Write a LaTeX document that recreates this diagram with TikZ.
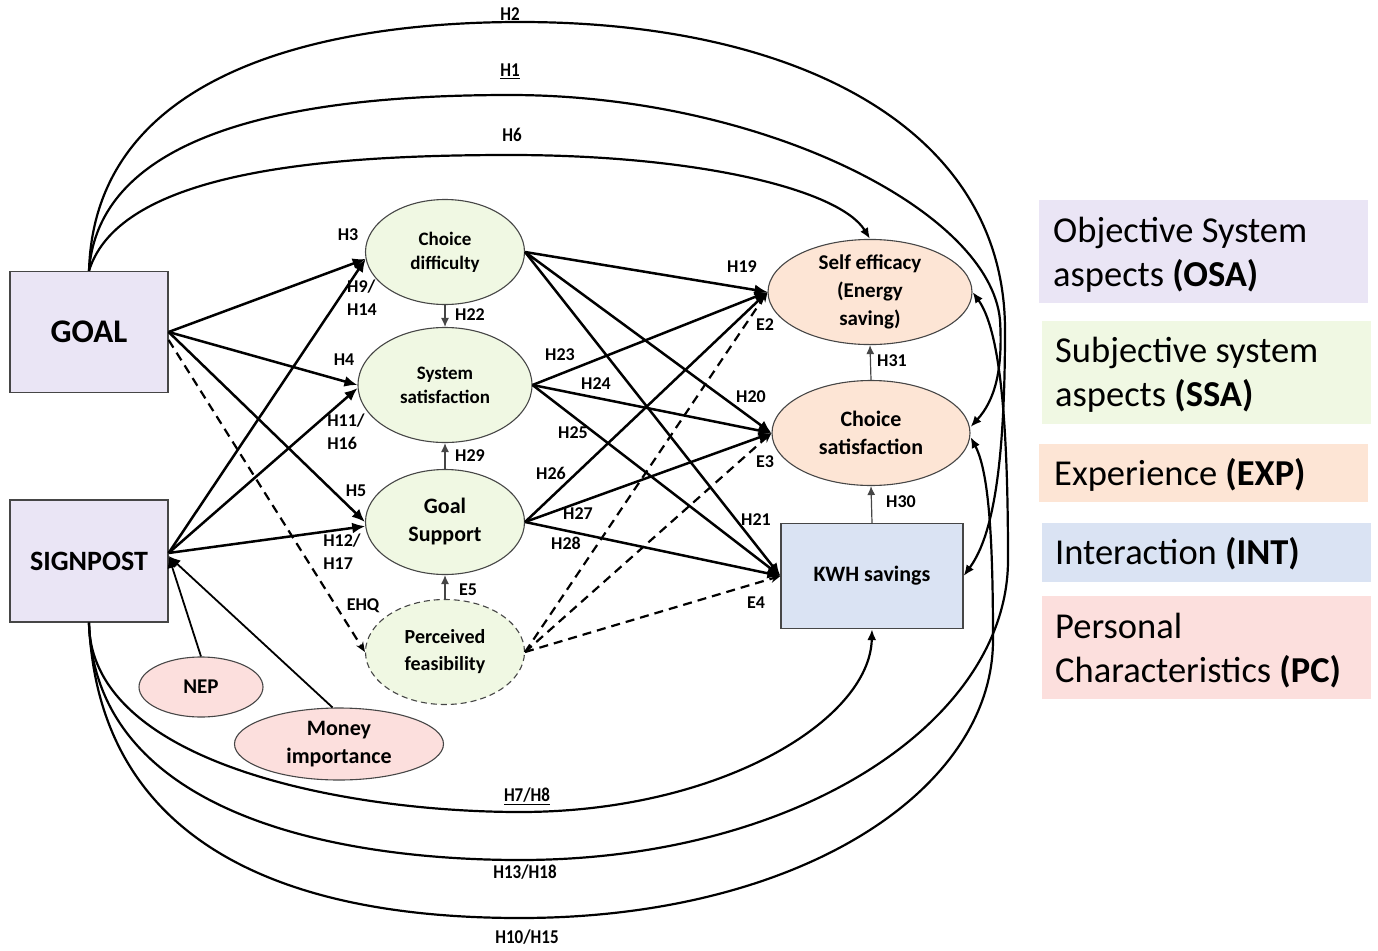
\documentclass[tikz,border=0pt]{standalone}
\usepackage{fontspec}
\setmainfont{Carlito}
\usetikzlibrary{arrows.meta,shapes.geometric}
\definecolor{osa}{RGB}{234,229,245}
\definecolor{ssa}{RGB}{240,248,227}
\definecolor{exp}{RGB}{253,229,213}
\definecolor{int}{RGB}{218,227,243}
\definecolor{pc}{RGB}{252,223,221}
\definecolor{bord}{RGB}{70,70,70}
\begin{document}
\begin{tikzpicture}[x=1pt,y=-1pt,
  rectbox/.style={draw=bord,line width=1.2pt,inner sep=0pt,font=\bfseries},
  ell/.style={ellipse,draw=bord,line width=1.1pt,inner sep=0pt,align=center,font=\bfseries\fontsize{19}{24}\selectfont},
  lab/.style={font=\bfseries\fontsize{18}{23}\selectfont,inner sep=0pt,align=left},
  curvelab/.style={font=\bfseries\fontsize{17}{19}\selectfont,inner sep=0pt,yscale=1.15},
  big/.style={-{Latex[length=13pt,width=11pt]},line width=2.5pt},
  dsh/.style={-{Stealth[length=10pt,width=8pt]},line width=2.2pt,dash pattern=on 9pt off 6pt},
  thin/.style={-{Latex[length=9pt,width=8pt]},line width=1.2pt,draw=bord},
  crv/.style={-{Latex[length=11pt,width=9pt]},line width=2.2pt},
  legend/.style={inner sep=0pt,anchor=west,align=left,font=\fontsize{36.5}{44}\selectfont}
]
\useasboundingbox (0,0) rectangle (1378,950);

% legend
\fill[osa] (1039,200) rectangle (1368,303);
\node[legend] (lgosa) at (1053,255) {Objective System\\aspects \textbf{(OSA)}};
\fill[ssa] (1042,321) rectangle (1371,424);
\node[legend] (lgssa) at (1055,375) {Subjective system\\aspects \textbf{(SSA)}};
\fill[exp] (1039,444) rectangle (1368,502);
\node[legend] (lgexp) at (1054,475) {Experience \textbf{(EXP)}};
\fill[int] (1042,523) rectangle (1371,582);
\node[legend] (lgint) at (1055,554) {Interaction \textbf{(INT)}};
\fill[pc] (1042,596) rectangle (1371,699);
\node[legend] (lgpc) at (1055,651) {Personal\\Characteristics \textbf{(PC)}};

% nodes
\node[rectbox,fill=osa,minimum width=158pt,minimum height=121pt,font=\bfseries\fontsize{33}{36}\selectfont] (goal) at (89,332) {GOAL};
\node[rectbox,fill=osa,minimum width=158pt,minimum height=122pt,font=\bfseries\fontsize{28}{30}\selectfont] (sign) at (89,561) {SIGNPOST};
\node[ell,fill=ssa,minimum width=159pt,minimum height=105pt] (cd) at (445,252) {Choice\\difficulty};
\node[ell,fill=ssa,minimum width=174pt,minimum height=115pt] (ss) at (445,385) {System\\satisfaction};
\node[ell,fill=ssa,minimum width=159pt,minimum height=105pt,font=\bfseries\fontsize{22}{28}\selectfont] (gs) at (445,522) {Goal\\Support};
\node[ell,fill=ssa,dashed,dash pattern=on 6pt off 4pt,minimum width=159pt,minimum height=105pt,font=\bfseries\fontsize{20}{27}\selectfont] (pf) at (445,652) {Perceived\\feasibility};
\node[ell,fill=exp,minimum width=204pt,minimum height=98pt,font=\bfseries\fontsize{21}{28}\selectfont] (se) at (870,292) {Self efficacy\\(Energy\\saving)};
\node[ell,fill=exp,minimum width=198pt,minimum height=105pt,font=\bfseries\fontsize{22}{28}\selectfont] (cs) at (871,433) {Choice\\satisfaction};
\node[rectbox,fill=int,minimum width=182pt,minimum height=105pt,font=\bfseries\fontsize{22}{24}\selectfont] (kwh) at (872,576) {KWH savings};
\node[ell,fill=pc,minimum width=124pt,minimum height=60pt,font=\bfseries\fontsize{21}{24}\selectfont] (nep) at (201,687) {NEP};
\node[ell,fill=pc,minimum width=209pt,minimum height=72pt,font=\bfseries\fontsize{22}{28}\selectfont] (money) at (339,744) {Money\\importance};

% top curves from GOAL
\draw[crv] (goal.north) .. controls (95,60) and (350,22) .. (520,22)
  .. controls (800,22) and (1005,130) .. (1005,330)
  .. controls (1005,480) and (990,540) .. (kwh.east);
\draw[crv] (goal.north) .. controls (100,120) and (330,95) .. (510,95)
  .. controls (760,95) and (990,210) .. (1000,320)
  .. controls (1003,370) and (995,400) .. ([yshift=6pt]cs.east);
\draw[crv] (goal.north) .. controls (120,170) and (330,155) .. (510,155)
  .. controls (700,155) and (840,190) .. (se.north);

% bottom curves from SIGNPOST
\draw[crv] (sign.south) .. controls (90,765) and (350,812) .. (520,812)
  .. controls (720,812) and (870,720) .. (kwh.south);
\draw[crv] (sign.south) .. controls (95,820) and (350,860) .. (520,860)
  .. controls (800,860) and (1008,720) .. (1008,560)
  .. controls (1008,420) and (1000,330) .. (se.east);
\draw[crv] (sign.south) .. controls (100,880) and (350,918) .. (520,918)
  .. controls (800,918) and (993,790) .. (993,640)
  .. controls (993,530) and (988,470) .. ([yshift=-4pt]cs.east);

% GOAL / SIGNPOST to mediators
\draw[big] (goal.east) -- (cd.185);
\draw[big] (goal.east) -- (ss.180);
\draw[big] (goal.east) -- (gs.west);
\draw[dsh] ([yshift=-8pt]goal.east) -- (pf.west);
\draw[big] ([yshift=8pt]sign.east) -- (cd.185);
\draw[big] ([yshift=8pt]sign.east) -- (ss.182);
\draw[big] ([yshift=8pt]sign.east) -- (gs.183);
\draw[-{Latex[length=12pt,width=10pt]},line width=1.8pt] (nep.north) -- ([yshift=5pt]sign.east);
\draw[-{Latex[length=12pt,width=10pt]},line width=1.8pt] (money.100) -- ([yshift=5pt]sign.east);

% mediators to outcomes
\foreach \s in {cd,ss,gs}{
  \draw[big] (\s.east) -- (se.west);
  \draw[big] (\s.east) -- (cs.west);
  \draw[big] (\s.east) -- (kwh.west);
}
\draw[dsh] (pf.east) -- (se.west);
\draw[dsh] (pf.east) -- (cs.west);
\draw[dsh] (pf.east) -- (kwh.west);

% vertical short arrows
\draw[thin] (cd.south) -- (ss.north);
\draw[thin] (gs.north) -- (ss.south);
\draw[thin] (pf.north) -- (gs.south);
\draw[thin] (cs.north) -- (se.south);
\draw[thin] (kwh.north) -- (cs.south);

% labels
\node[curvelab] (l2) at (510,14) {H2};
\node[curvelab] (l1) at (510,71) {\underline{H1}};
\node[curvelab] (l6) at (512,135) {H6};
\node[curvelab] (l78) at (527,796) {\underline{H7/H8}};
\node[curvelab] (l1318) at (525,872) {H13/H18};
\node[curvelab] (l1015) at (527,937) {H10/H15};

\node[lab] (h3) at (348,235) {H3};
\node[lab] (h914) at (362,298) {H9/\\H14};
\node[lab] (h22) at (470,315) {H22};
\node[lab] (h4) at (344,360) {H4};
\node[lab] (h1116) at (346,432) {H11/\\H16};
\node[lab] (h29) at (470,456) {H29};
\node[lab] (h5) at (356,491) {H5};
\node[lab] (h1217) at (342,552) {H12/\\H17};
\node[lab] (e5) at (468,590) {E5};
\node[lab] (ehq) at (363,606) {EHQ};
\node[lab] (h19) at (742,267) {H19};
\node[lab] (e2) at (765,325) {E2};
\node[lab] (h23) at (560,355) {H23};
\node[lab] (h24) at (596,384) {H24};
\node[lab] (h20) at (751,397) {H20};
\node[lab] (h25) at (573,433) {H25};
\node[lab] (e3) at (765,462) {E3};
\node[lab] (h26) at (551,473) {H26};
\node[lab] (h27) at (578,514) {H27};
\node[lab] (h28) at (566,543) {H28};
\node[lab] (h21) at (756,520) {H21};
\node[lab] (e4) at (756,603) {E4};
\node[lab] (h31) at (892,361) {H31};
\node[lab] (h30) at (901,502) {H30};
\end{tikzpicture}
\end{document}
